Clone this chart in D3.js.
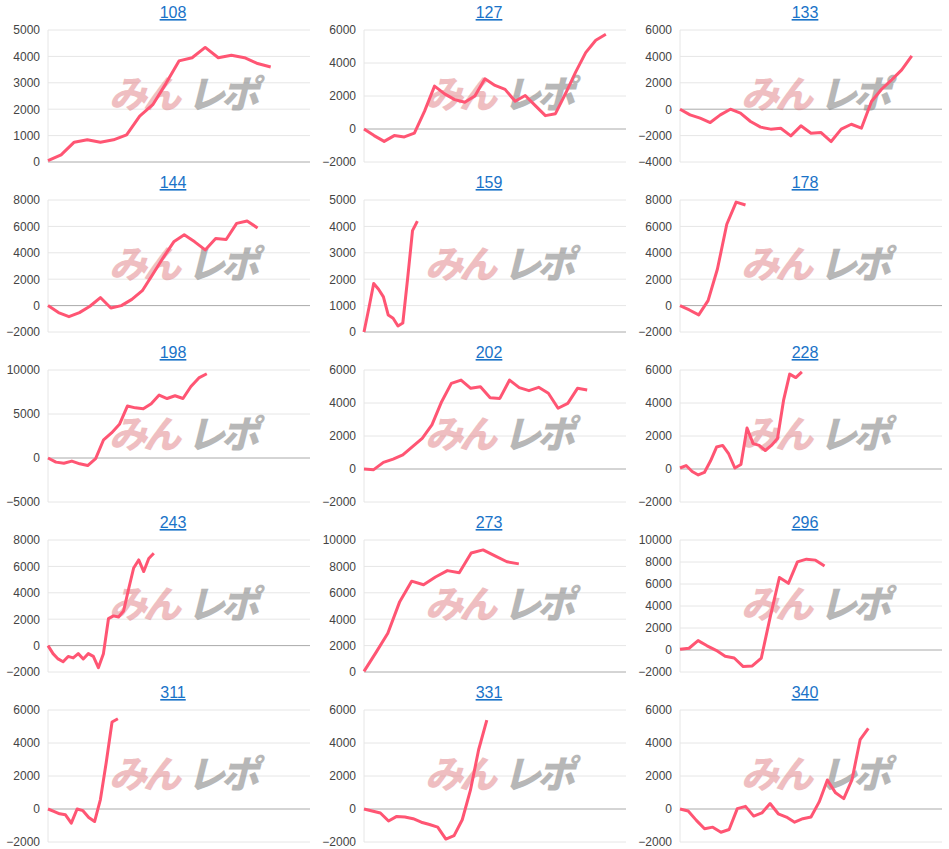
<!DOCTYPE html>
<html><head><meta charset="utf-8">
<script src="https://cdn.jsdelivr.net/npm/d3@7"></script>
<style>body{margin:0;background:#fff;font-family:Arial,"Liberation Sans",sans-serif}</style>
</head><body><svg id="c" width="949" height="849"></svg>
<script>
const titles = ["108","127","133","144","159","178","198","202","228","243","273","296","311","331","340"];
const s108 = [50,270,750,840,750,840,1030,1740,2170,2970,3830,3950,4340,3950,4040,3950,3730,3600];
const s127 = [0,-400,-750,-400,-480,-250,1070,2600,2130,1780,1620,2000,3040,2640,2400,1680,2030,1420,810,930,2150,3450,4630,5380,5740];
const s133 = [0,-430,-680,-1010,-430,0,-300,-930,-1360,-1510,-1440,-2020,-1260,-1820,-1770,-2450,-1510,-1140,-1440,580,1510,2220,2980,4040];
const s144 = [0,-530,-840,-530,-50,610,-180,0,470,1130,2370,3640,4830,5360,4830,4220,5090,5010,6230,6410,5880];
const s159 = [0,900,1840,1620,1330,640,520,230,340,2040,3840,4200];
const s178 = [0,-330,-700,380,2770,6160,7840,7620];
const s198 = [0,-470,-590,-350,-660,-860,-80,2070,2850,3830,5900,5700,5590,6170,7150,6760,7070,6760,8120,9100,9570];
const s202 = [0,-40,400,600,850,1350,1860,2670,4080,5190,5390,4890,4990,4320,4280,5390,4930,4750,4950,4590,3680,3980,4890,4790];
const s228 = [60,210,-150,-360,-210,480,1330,1430,910,60,270,2480,1540,1430,1120,1430,1850,4170,5750,5540,5890];
const s243 = [0,-610,-1010,-1220,-820,-930,-610,-1010,-610,-820,-1670,-610,2040,2250,2170,2620,4290,5880,6490,5610,6600,7000];
const s273 = [50,1470,2930,5330,6880,6610,7200,7680,7520,9010,9250,8800,8350,8190];
const s296 = [60,160,850,380,-30,-570,-730,-1510,-1450,-730,3060,6590,6060,8010,8260,8170,7630];
const s311 = [0,-140,-290,-350,-860,0,-100,-510,-760,570,2820,5270,5470];
const s331 = [0,-120,-240,-730,-450,-490,-590,-800,-940,-1100,-1820,-1610,-650,1140,3590,5390];
const s340 = [0,-120,-690,-1200,-1100,-1410,-1240,20,160,-430,-240,330,-290,-490,-800,-590,-490,430,1760,980,630,1760,4200,4880];
const series = [s108,s127,s133,s144,s159,s178,s198,s202,s228,s243,s273,s296,s311,s331,s340];
const xMax = [20,26,26,25,54,28,33,27,43,52,22,29,45,32,32];
const yMin = [0,-2000,-4000,-2000,0,-2000,-5000,-2000,-2000,-2000,0,-2000,-2000,-2000,-2000];
const yMaxs = [5000,6000,6000,8000,5000,8000,10000,6000,6000,8000,10000,10000,6000,6000,6000];
const yStep = [1000,2000,2000,2000,1000,2000,5000,2000,2000,2000,2000,2000,2000,2000,2000];
const rowTop = [0,170,340,510,680];

const svg = d3.select("#c");
series.forEach((data,i)=>{
  const col=i%3,row=Math.floor(i/3);
  const ox=col*316, oy=rowTop[row];
  const g=svg.append("g").attr("transform",`translate(${ox},${oy})`);
  const L=48,R=310,T=30,B=162;
  const x=d3.scaleLinear().domain([0,xMax[i]]).range([L,R]);
  const y=d3.scaleLinear().domain([yMin[i],yMaxs[i]]).range([B,T]);
  const ticks=d3.range(yMin[i],yMaxs[i]+1,yStep[i]);
  g.selectAll("line.grid").data(ticks).join("line")
    .attr("x1",L).attr("x2",R).attr("y1",d=>y(d)).attr("y2",d=>y(d))
    .attr("stroke",d=>d===0?"#aaaaaa":"#e6e6e6").attr("stroke-width",1);
  g.append("line").attr("x1",L).attr("x2",L).attr("y1",T).attr("y2",B).attr("stroke","#e6e6e6");
  const ax=g.append("g").attr("transform",`translate(${L},0)`)
    .call(d3.axisLeft(y).tickValues(ticks).tickSize(0).tickPadding(8).tickFormat(d3.format("d")));
  ax.select(".domain").remove();
  ax.selectAll("text").attr("fill","#444").style("font-size","12px").style("font-family","Arial");
  const wm=g.append("g").attr("transform",`translate(${(L+R)/2+12},${(T+B)/2+12})`);
  wm.append("text").attr("x",-82).attr("y",0).text("みん").attr("fill","#e07f84").attr("opacity",0.5)
    .attr("letter-spacing",-4).style("font-size","38px").style("font-weight","900").style("font-style","italic").style("font-family","Noto Sans CJK JP");
  wm.append("text").attr("x",-4).attr("y",0).text("レポ").attr("fill","#888").attr("opacity",0.6)
    .attr("letter-spacing",-4).style("font-size","38px").style("font-weight","900").style("font-style","italic").style("font-family","Noto Sans CJK JP");
  g.append("path").datum(data).attr("fill","none").attr("stroke","#ff5573").attr("stroke-width",3)
    .attr("stroke-linejoin","round")
    .attr("d",d3.line().x((d,j)=>x(j)).y(d=>y(d)));
  g.append("text").attr("x",(L+R)/2-6).attr("y",18).attr("text-anchor","middle")
    .text(titles[i]).attr("fill","#1a73c8").attr("text-decoration","underline")
    .style("font-size","16px").style("font-family","Arial");
});
</script></body></html>
